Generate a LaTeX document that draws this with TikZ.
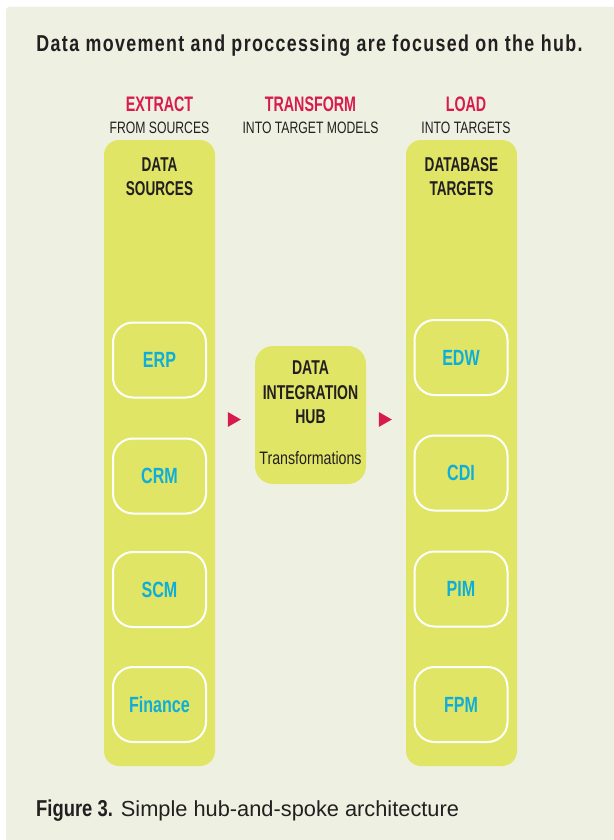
\documentclass[tikz,border=0pt]{standalone}
\usepackage{fontspec}
\setmainfont{Liberation Sans}
\newfontfamily\cfont[FakeStretch=0.68]{Liberation Sans}
\newfontfamily\ifont[FakeStretch=0.73]{Liberation Sans}
\newfontfamily\hfont[FakeStretch=0.70]{Liberation Sans}
\newfontfamily\fgfont[FakeStretch=0.80]{Liberation Sans}
\newfontfamily\rfont[FakeStretch=0.74]{Liberation Sans}
\newfontfamily\trfont[FakeStretch=0.79]{Liberation Sans}
\newfontfamily\tfont[FakeStretch=0.775,LetterSpace=6]{Liberation Sans}
\usetikzlibrary{calc}
\definecolor{bg}{HTML}{EEF1E2}
\definecolor{colfill}{HTML}{E0E566}
\definecolor{hubred}{HTML}{D81B4F}
\definecolor{itemblue}{HTML}{0FAED8}
\definecolor{ink}{HTML}{231F20}
\tikzset{
  txt/.style={inner sep=0pt, anchor=base, text=ink},
  hdr/.style={txt, text=hubred, font=\cfont\bfseries\fontsize{21}{21}\selectfont},
  subhdr/.style={txt, font=\rfont\fontsize{16.5}{16.5}\selectfont},
  colhdr/.style={txt, font=\cfont\bfseries\fontsize{20}{20}\selectfont},
  column/.style={fill=colfill, rounded corners=15pt, minimum width=111pt, minimum height=626pt, inner sep=0pt},
  item/.style={fill=colfill, draw=white, line width=2pt, rounded corners=20pt, minimum width=93pt, minimum height=75pt, inner sep=0pt, text=itemblue, font=\ifont\bfseries\fontsize{22}{22}\selectfont},
  hubbox/.style={fill=colfill, rounded corners=18pt, minimum width=111pt, minimum height=138pt, inner sep=0pt},
  hubtxt/.style={txt, font=\hfont\bfseries\fontsize{20}{20}\selectfont},
  arrowtri/.style={fill=hubred},
}
\begin{document}
\begin{tikzpicture}[x=1pt,y=-1pt]
\useasboundingbox (0,0) rectangle (613,840);
\fill[white] (0,0) rectangle (613,840);
\fill[bg, rounded corners=3pt] (6,7) rectangle (625,852);

\node[txt, font=\tfont\bfseries\fontsize{23}{23}\selectfont] (title) at (309.5,52) {Data movement and proccessing are focused on the hub.};

\node[hdr] (extract) at (159.5,112) {EXTRACT};
\node[subhdr] (fromsrc) at (159.5,133) {FROM SOURCES};
\node[hdr] (transform) at (310.5,112) {TRANSFORM};
\node[subhdr] (intomodels) at (310.5,133) {INTO TARGET MODELS};
\node[hdr] (load) at (466,112) {LOAD};
\node[subhdr] (intotargets) at (466,133) {INTO TARGETS};

\node[column] (srccol) at (159.5,453) {};
\node[column] (tgtcol) at (461.5,453) {};

\node[colhdr] (srch1) at (159.5,171.5) {DATA};
\node[colhdr] (srch2) at (159.5,195) {SOURCES};
\node[colhdr] (tgth1) at (461.5,171.5) {DATABASE};
\node[colhdr] (tgth2) at (461.5,195) {TARGETS};

\node[item] (erp) at (159.5,360) {ERP};
\node[item] (crm) at (159.5,476) {CRM};
\node[item] (scm) at (159.5,589.5) {SCM};
\node[item] (fin) at (159.5,704.5) {Finance};

\node[item] (edw) at (461,357.5) {EDW};
\node[item] (cdi) at (461,473) {CDI};
\node[item] (pim) at (461,589) {PIM};
\node[item] (fpm) at (461,704.5) {FPM};

\node[hubbox] (hub) at (310.5,415) {};
\node[hubtxt] (hub1) at (310.5,374) {DATA};
\node[hubtxt] (hub2) at (310.5,399) {INTEGRATION};
\node[hubtxt] (hub3) at (310.5,423) {HUB};
\node[txt, font=\trfont\fontsize{18}{18}\selectfont] (hub4) at (310.5,464) {Transformations};

\coordinate (la) at ($(hub.west)+(-27,12)$);
\fill[arrowtri] (la) -- ++(0,-15) -- ++(13,7.5) -- cycle;
\coordinate (ra) at ($(tgtcol.west)+(-27,-26)$);
\fill[arrowtri] (ra) -- ++(0,-15) -- ++(13,7.5) -- cycle;

\node[txt, anchor=base west, font=\fontsize{21.8}{22}\selectfont] (caption) at (36,816) {{\fgfont\bfseries\fontsize{23}{23}\selectfont Figure 3.} Simple hub-and-spoke architecture};
\end{tikzpicture}
\end{document}
